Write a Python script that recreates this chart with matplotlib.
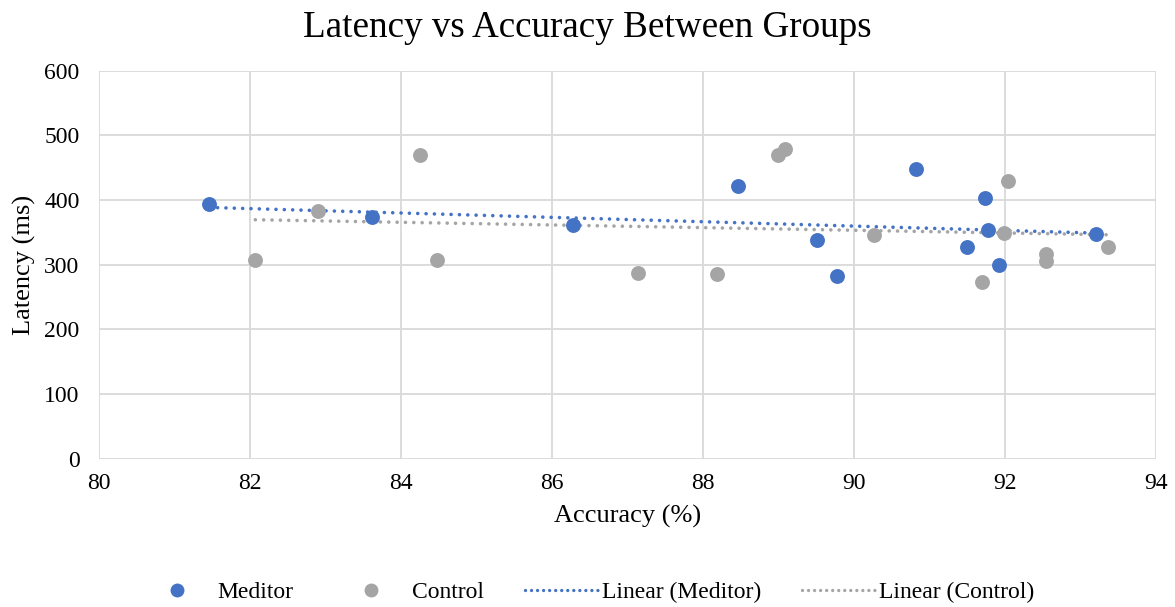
import numpy as np
import matplotlib.pyplot as plt
from matplotlib.lines import Line2D

# accuracy (%) and latency (ms) per participant
meditor_acc = [81.46, 83.61, 86.28, 88.46, 89.51, 89.78, 90.82, 91.73, 91.77, 91.50, 91.92, 93.20]
meditor_lat = [394, 373, 361, 422, 338, 283, 448, 403, 354, 327, 299, 348]

control_acc = [82.07, 82.90, 84.25, 84.47, 87.14, 88.19, 89.00, 89.08, 90.27, 92.04, 91.99, 91.70, 92.55, 92.55, 93.36]
control_lat = [307, 383, 469, 307, 287, 286, 469, 479, 346, 430, 349, 274, 317, 305, 328]

blue = "#4472C4"
grey = "#A5A5A5"

plt.rcParams['font.family'] = ['Liberation Serif', 'DejaVu Serif']

fig = plt.figure(figsize=(11.75, 6.07), dpi=100)
ax = fig.add_axes([0.0843, 0.2441, 0.8995, 0.6396])

ax.scatter(meditor_acc, meditor_lat, s=115, color=blue, zorder=3, linewidths=0)
ax.scatter(control_acc, control_lat, s=115, color=grey, zorder=3, linewidths=0)

# least squares trend for each group, drawn over its own x range
def trend(x, y, color):
    x = np.array(x)
    m, b = np.polyfit(x, np.array(y), 1)
    xs = np.array([x.min(), x.max()])
    ax.plot(xs, m * xs + b, color=color, lw=2.6, dashes=(0.01, 2.3),
            dash_capstyle='round', zorder=2)

trend(meditor_acc, meditor_lat, blue)
trend(control_acc, control_lat, grey)

ax.set_xlim(80, 94)
ax.set_ylim(0, 600)
ax.set_xticks(range(80, 95, 2))
ax.set_yticks(range(0, 601, 100))
ax.grid(True, color="#D9D9D9", lw=1.3)
ax.set_axisbelow(True)
for s in ax.spines.values():
    s.set_visible(False)
ax.tick_params(length=0, labelsize=17, colors="#000000")
ax.tick_params(axis='y', pad=14)
ax.tick_params(axis='x', pad=10)

ax.set_xlabel("Accuracy (%)", fontsize=19, labelpad=8)
ax.set_ylabel("Latency (ms)", fontsize=19, labelpad=6)
fig.text(0.5, 0.955, "Latency vs Accuracy Between Groups", ha='center', va='center', fontsize=26.7)

handles = [
    Line2D([], [], ls='none', marker='o', ms=10, color=blue, mew=0),
    Line2D([], [], ls='none', marker='o', ms=10, color=grey, mew=0),
    Line2D([], [], color=blue, lw=2.4, dashes=(0.01, 1.8), dash_capstyle='round'),
    Line2D([], [], color=grey, lw=2.4, dashes=(0.01, 1.8), dash_capstyle='round'),
]
labels = ["Meditor", "Control", "Linear (Meditor)", "Linear (Control)"]
fig.legend(handles, labels, loc='center', bbox_to_anchor=(0.5, 0.024), ncol=4,
           frameon=False, fontsize=17, handlelength=3.1, columnspacing=1.75,
           handletextpad=0.15)

fig.savefig("out.png")
